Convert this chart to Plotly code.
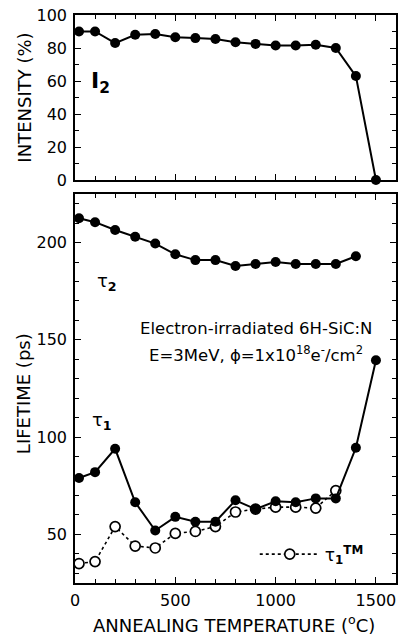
import plotly.graph_objects as go

# ---- data ----
temps = [20, 100, 200, 300, 400, 500, 600, 700, 800, 900, 1000, 1100, 1200, 1300, 1400, 1500]
intensity_I2 = [90, 90, 83, 88, 88.5, 86.5, 86, 85.5, 83.5, 82.5, 81.5, 81.5, 82, 80, 63, 0]

temps_tau2 = [20, 100, 200, 300, 400, 500, 600, 700, 800, 900, 1000, 1100, 1200, 1300, 1400]
tau2 = [212.5, 210.5, 206.5, 203, 199.5, 194, 191, 191, 188, 189, 190, 189, 189, 189, 193]

temps_tau1 = temps
tau1 = [79, 82, 94, 66.5, 52, 59, 56.5, 56.5, 67.5, 63, 67, 66.5, 68.5, 68.5, 94.5, 139.5]

temps_tm = [20, 100, 200, 300, 400, 500, 600, 700, 800, 900, 1000, 1100, 1200, 1300]
tau1_tm = [35, 36, 54, 44, 43, 50.5, 51.5, 54, 61.5, 63, 64, 64, 63.5, 72.5]

x_range = [0, 1600]
y_top_range = [0, 100]
y_bot_range = [25, 225]

FONT = "DejaVu Sans"
BLACK = "black"

fig = go.Figure()

fig.add_trace(go.Scatter(
    x=temps, y=intensity_I2, mode="lines+markers", xaxis="x", yaxis="y",
    line=dict(color=BLACK, width=2), marker=dict(color=BLACK, size=10),
    showlegend=False, cliponaxis=False, name="I2"))

fig.add_trace(go.Scatter(
    x=temps_tm, y=tau1_tm, mode="lines+markers", xaxis="x2", yaxis="y2",
    line=dict(color=BLACK, width=1.6, dash="dot"),
    marker=dict(color="white", size=10, line=dict(color=BLACK, width=1.7)),
    showlegend=True, cliponaxis=False,
    name="τ<sub><b>1</b></sub><sup><b>TM</b></sup>"))

fig.add_trace(go.Scatter(
    x=temps_tau2, y=tau2, mode="lines+markers", xaxis="x2", yaxis="y2",
    line=dict(color=BLACK, width=2), marker=dict(color=BLACK, size=10),
    showlegend=False, cliponaxis=False, name="tau2"))

fig.add_trace(go.Scatter(
    x=temps_tau1, y=tau1, mode="lines+markers", xaxis="x2", yaxis="y2",
    line=dict(color=BLACK, width=2), marker=dict(color=BLACK, size=10),
    showlegend=False, cliponaxis=False, name="tau1"))

axis_common = dict(
    showline=True, linecolor=BLACK, linewidth=1.6, mirror="ticks",
    ticks="inside", ticklen=6, tickwidth=1.4, tickcolor=BLACK,
    showgrid=False, zeroline=False,
    tickfont=dict(family=FONT, size=16, color=BLACK),
)
minor_ticks = dict(ticks="inside", ticklen=4, tickcolor=BLACK, tickwidth=1.2)

fig.update_layout(
    width=400, height=637,
    margin=dict(l=75, r=2, t=15, b=54),
    paper_bgcolor="white", plot_bgcolor="white",
    font=dict(family=FONT, color=BLACK),
    xaxis=dict(axis_common, domain=[0, 1], anchor="y", range=x_range,
               dtick=500, showticklabels=False, minor=dict(minor_ticks, dtick=100)),
    yaxis=dict(axis_common, domain=[0.7095, 1], anchor="x", range=y_top_range,
               dtick=20, ticklabelstandoff=3, minor=dict(minor_ticks, dtick=10)),
    xaxis2=dict(axis_common, domain=[0, 1], anchor="y2", range=x_range,
                dtick=500, ticklabelstandoff=2, minor=dict(minor_ticks, dtick=100)),
    yaxis2=dict(axis_common, domain=[0, 0.6849], anchor="x2", range=y_bot_range,
                tickvals=[50, 100, 150, 200], ticklabelstandoff=3,
                minor=dict(minor_ticks, dtick=10)),
    legend=dict(x=0.56, y=0.05, xanchor="left", yanchor="middle",
                bgcolor="rgba(0,0,0,0)", itemwidth=60,
                font=dict(family=FONT, size=17, color=BLACK)),
)

def note(text, x, y, size, xref="paper", yref="paper", angle=0):
    return dict(text=text, xref=xref, yref=yref, x=x, y=y, xanchor="center",
                yanchor="middle", textangle=angle, showarrow=False,
                font=dict(family=FONT, size=size, color=BLACK))

ann = [
    note("INTENSITY (%)", -0.158, 0.855, 18, angle=-90),
    note("LIFETIME (ps)", -0.158, 0.333, 18, angle=-90),
    note("ANNEALING TEMPERATURE (<sup>o</sup>C)", 0.495, -0.073, 18),
    note("<b>I<sub>2</sub></b>", 129, 59, 22, "x", "y"),
    note("τ<sub><b>2</b></sub>", 158, 179.5, 18, "x2", "y2"),
    note("τ<sub><b>1</b></sub>", 136, 108.5, 18, "x2", "y2"),
    note("Electron-irradiated 6H-SiC:N", 904, 155.8, 16.5, "x2", "y2"),
    note("E=3MeV, ϕ=1x10<sup>18</sup>e<sup>-</sup>/cm<sup>2</sup>", 904, 142.9, 16.5, "x2", "y2"),
]
fig.update_layout(annotations=ann)

fig.write_html("out.html", config={"displayModeBar": False},
               post_script="document.body.style.margin='0';document.body.style.padding='0';"
                           "document.documentElement.style.overflow='hidden';")
